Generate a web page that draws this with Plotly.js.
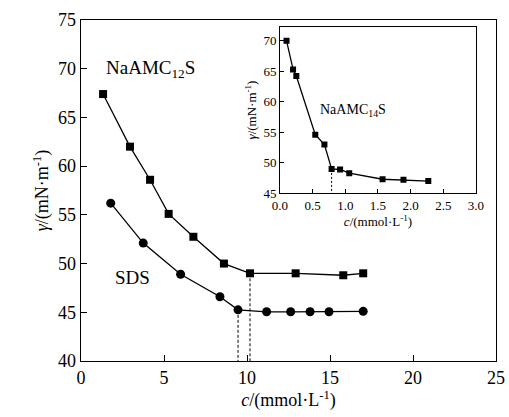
<!DOCTYPE html>
<html><head><meta charset="utf-8">
<script src="https://cdn.plot.ly/plotly-3.0.1.min.js"></script>
<style>html,body{margin:0;padding:0;background:#fff}#chart{width:509px;height:417px}</style>
</head><body><div id="chart"></div>
<script>
// Main chart data
const naX = [1.33, 2.95, 4.16, 5.28, 6.77, 8.61, 10.18, 12.93, 15.8, 17.0];
const naY = [67.4, 62.0, 58.6, 55.1, 52.75, 50.0, 49.0, 49.0, 48.8, 49.0];
const sdsX = [1.79, 3.75, 6.0, 8.37, 9.46, 11.18, 12.63, 13.8, 14.94, 17.0];
const sdsY = [56.2, 52.1, 48.9, 46.6, 45.25, 45.05, 45.05, 45.05, 45.05, 45.1];
const naCmcIndex = 6;
const sdsCmcIndex = 4;
// Inset data (NaAMC14S)
const c14X = [0.10, 0.20, 0.25, 0.54, 0.68, 0.79, 0.92, 1.06, 1.57, 1.89, 2.27];
const c14Y = [70.0, 65.3, 64.2, 54.6, 53.0, 49.0, 48.9, 48.3, 47.3, 47.2, 47.0];
const c14CmcIndex = 5;

const font = 'Liberation Serif';
const traces = [
  {x: naX, y: naY, mode: 'lines+markers', line: {color: '#000', width: 1.3},
   marker: {symbol: 'square', size: 8, color: '#000'}, xaxis: 'x', yaxis: 'y'},
  {x: sdsX, y: sdsY, mode: 'lines+markers', line: {color: '#000', width: 1.3},
   marker: {symbol: 'circle', size: 9, color: '#000'}, xaxis: 'x', yaxis: 'y'},
  {x: [naX[naCmcIndex], naX[naCmcIndex]], y: [naY[naCmcIndex], 40], mode: 'lines',
   line: {color: '#000', width: 1, dash: '3px,2px'}, xaxis: 'x', yaxis: 'y'},
  {x: [sdsX[sdsCmcIndex], sdsX[sdsCmcIndex]], y: [sdsY[sdsCmcIndex], 40], mode: 'lines',
   line: {color: '#000', width: 1, dash: '3px,2px'}, xaxis: 'x', yaxis: 'y'},
  {x: c14X, y: c14Y, mode: 'lines+markers', line: {color: '#000', width: 1.3},
   marker: {symbol: 'square', size: 6, color: '#000'}, xaxis: 'x2', yaxis: 'y2'},
  {x: [c14X[c14CmcIndex], c14X[c14CmcIndex]], y: [c14Y[c14CmcIndex], 45], mode: 'lines',
   line: {color: '#000', width: 1, dash: '2px,2px'}, xaxis: 'x2', yaxis: 'y2'}
];

const axBase = {showline: true, linecolor: '#000', linewidth: 1.3, mirror: true,
  ticks: 'inside', ticklen: 6, tickwidth: 1, tickcolor: '#000', showgrid: false, zeroline: false};

const layout = {
  width: 509, height: 417, showlegend: false,
  paper_bgcolor: '#fff', plot_bgcolor: '#fff',
  margin: {l: 81, r: 13, t: 20, b: 56},
  font: {family: font, color: '#000', size: 17},
  xaxis: Object.assign({}, axBase, {range: [0, 25], dtick: 5, tickfont: {family: font, size: 18},
    domain: [0, 1], anchor: 'y',
    title: {text: '<i>c</i>/(mmol·L<sup>-1</sup>)', font: {family: font, size: 18}, standoff: 2}}),
  yaxis: Object.assign({}, axBase, {range: [40, 75], dtick: 5, tickfont: {family: font, size: 18},
    domain: [0, 1], anchor: 'x',
    title: {text: '<i>γ</i>/(mN·m<sup>-1</sup>)', font: {family: font, size: 18}, standoff: 4}}),
  xaxis2: Object.assign({}, axBase, {range: [0, 3], dtick: 0.5, tickformat: '.1f',
    ticklen: 4, linewidth: 1, tickfont: {family: font, size: 13}, domain: [0.4795, 0.9518], anchor: 'y2',
    title: {text: '<i>c</i>/(mmol·L<sup>-1</sup>)', font: {family: font, size: 13}, standoff: 3}}),
  yaxis2: Object.assign({}, axBase, {range: [45, 72.3], dtick: 5,
    ticklen: 4, linewidth: 1, tickfont: {family: font, size: 13}, domain: [0.4918, 0.9804], anchor: 'x2',
    title: {text: '<i>γ</i>/(mN·m<sup>-1</sup>)', font: {family: font, size: 13}, standoff: 3}}),
  annotations: [
    {text: 'NaAMC<sub>12</sub>S', x: 4.2, y: 70.0, xref: 'x', yref: 'y', showarrow: false,
     font: {family: font, size: 19}},
    {text: 'SDS', x: 3.1, y: 48.6, xref: 'x', yref: 'y', showarrow: false, font: {family: font, size: 19}},
    {text: 'NaAMC<sub>14</sub>S', x: 1.12, y: 58.6, xref: 'x2', yref: 'y2', showarrow: false,
     font: {family: font, size: 14}}
  ]
};
Plotly.newPlot('chart', traces, layout, {staticPlot: true, displayModeBar: false});
</script></body></html>
